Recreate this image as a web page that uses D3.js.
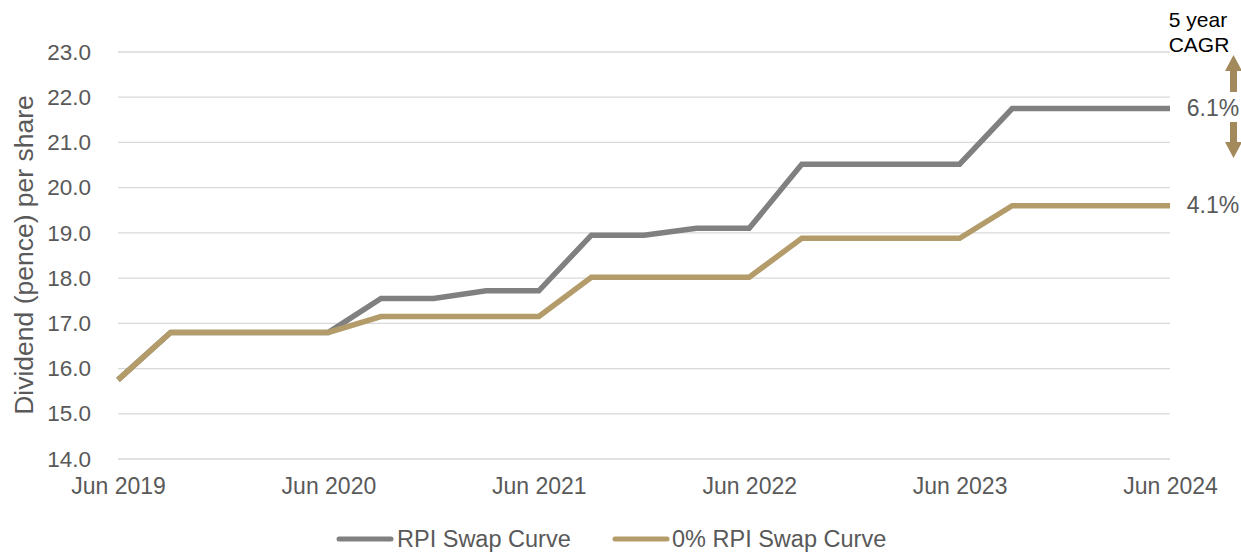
<!DOCTYPE html>
<html>
<head>
<meta charset="utf-8">
<script src="https://cdn.jsdelivr.net/npm/d3@7"></script>
<style>
  html, body { margin: 0; padding: 0; background: #fff; }
  svg { display: block; font-family: "Liberation Sans", Arial, sans-serif; }
</style>
</head>
<body>
<svg id="chart" width="1241" height="552"></svg>
<script>
// Quarterly periods
const quarters = [
  "Jun 2019", "Sep 2019", "Dec 2019", "Mar 2020",
  "Jun 2020", "Sep 2020", "Dec 2020", "Mar 2021",
  "Jun 2021", "Sep 2021", "Dec 2021", "Mar 2022",
  "Jun 2022", "Sep 2022", "Dec 2022", "Mar 2023",
  "Jun 2023", "Sep 2023", "Dec 2023", "Mar 2024",
  "Jun 2024"
];

// Dividend (pence) per share
const rpiSwap = [
  15.75, 16.8, 16.8, 16.8,
  16.8, 17.55, 17.55, 17.72,
  17.72, 18.95, 18.95, 19.1,
  19.1, 20.52, 20.52, 20.52,
  20.52, 21.75, 21.75, 21.75,
  21.75
];
const zeroRpiSwap = [
  15.75, 16.8, 16.8, 16.8,
  16.8, 17.15, 17.15, 17.15,
  17.15, 18.02, 18.02, 18.02,
  18.02, 18.88, 18.88, 18.88,
  18.88, 19.6, 19.6, 19.6,
  19.6
];

const xTickLabels = ["Jun 2019", "Jun 2020", "Jun 2021", "Jun 2022", "Jun 2023", "Jun 2024"];
const yTicks = [14, 15, 16, 17, 18, 19, 20, 21, 22, 23];
const seriesNames = ["RPI Swap Curve", "0% RPI Swap Curve"];
const cagrLabels = ["6.1%", "4.1%"];

const colors = { rpi: "#808080", zero: "#b39c6a", grid: "#d9d9d9", text: "#595959" };

const svg = d3.select("#chart");
const plot = { left: 118, right: 1170, top: 52, bottom: 459 };

const x = d3.scalePoint().domain(quarters).range([plot.left, plot.right]);
const y = d3.scaleLinear().domain([14, 23]).range([plot.bottom, plot.top]);

// Gridlines
svg.append("g")
  .selectAll("line")
  .data(yTicks)
  .join("line")
  .attr("x1", plot.left).attr("x2", plot.right)
  .attr("y1", d => y(d)).attr("y2", d => y(d))
  .attr("stroke", colors.grid)
  .attr("stroke-width", 1.3);

// Y axis labels
const yAxis = svg.append("g")
  .attr("transform", `translate(${plot.left},0)`)
  .call(d3.axisLeft(y).tickValues(yTicks).tickFormat(d3.format(".1f")).tickSize(0).tickPadding(27));
yAxis.select(".domain").remove();
yAxis.selectAll("text")
  .attr("fill", colors.text)
  .style("font-size", "22.5px")
  .style("font-family", "Liberation Sans, Arial, sans-serif");

// X axis labels
const xAxis = svg.append("g")
  .attr("transform", `translate(0,${plot.bottom})`)
  .call(d3.axisBottom(x).tickValues(xTickLabels).tickSize(0).tickPadding(19));
xAxis.select(".domain").remove();
xAxis.selectAll("text")
  .attr("fill", colors.text)
  .style("font-size", "23px")
  .style("font-family", "Liberation Sans, Arial, sans-serif");

// Y axis title
svg.append("text")
  .attr("transform", `translate(33,255) rotate(-90)`)
  .attr("text-anchor", "middle")
  .attr("fill", colors.text)
  .style("font-size", "26.5px")
  .text("Dividend (pence) per share");

// Lines
const line = d3.line()
  .x((d, i) => x(quarters[i]))
  .y(d => y(d));

svg.append("path")
  .datum(rpiSwap)
  .attr("d", line)
  .attr("fill", "none")
  .attr("stroke", colors.rpi)
  .attr("stroke-width", 5.5);

svg.append("path")
  .datum(zeroRpiSwap)
  .attr("d", line)
  .attr("fill", "none")
  .attr("stroke", colors.zero)
  .attr("stroke-width", 5.5);

// CAGR annotations at the end of each curve
const lastRpi = rpiSwap[rpiSwap.length - 1];
const lastZero = zeroRpiSwap[zeroRpiSwap.length - 1];
[[lastRpi, cagrLabels[0]], [lastZero, cagrLabels[1]]].forEach(([v, label]) => {
  svg.append("text")
    .attr("x", 1213).attr("y", y(v) + 7.5)
    .attr("text-anchor", "middle")
    .attr("fill", colors.text)
    .style("font-size", "23px")
    .text(label);
});

svg.append("text")
  .attr("x", 1198).attr("y", 27)
  .attr("text-anchor", "middle")
  .attr("fill", "#000")
  .style("font-size", "21px")
  .text("5 year");
svg.append("text")
  .attr("x", 1199).attr("y", 52)
  .attr("text-anchor", "middle")
  .attr("fill", "#000")
  .style("font-size", "21px")
  .text("CAGR");

// Arrows
function arrow(xc, yTail, yHead) {
  const dir = yHead < yTail ? -1 : 1;
  const headLen = 16, headW = 8.5, shaftW = 3.5;
  const yBase = yHead - dir * headLen;
  const pts = [
    [xc - shaftW, yTail], [xc - shaftW, yBase], [xc - headW, yBase],
    [xc, yHead], [xc + headW, yBase], [xc + shaftW, yBase], [xc + shaftW, yTail]
  ];
  svg.append("path")
    .attr("d", d3.line()(pts) + "Z")
    .attr("fill", "#a38a5c");
}
arrow(1233.5, 92, 55);
arrow(1233.5, 122, 158);

// Legend
const legend = svg.append("g");
const legendItems = [
  { name: seriesNames[0], color: colors.rpi, x: 339, tx: 397 },
  { name: seriesNames[1], color: colors.zero, x: 615, tx: 672 }
];
legendItems.forEach(it => {
  legend.append("line")
    .attr("x1", it.x).attr("x2", it.x + 52)
    .attr("y1", 539).attr("y2", 539)
    .attr("stroke", it.color)
    .attr("stroke-width", 5)
    .attr("stroke-linecap", "round");
  legend.append("text")
    .attr("x", it.tx).attr("y", 547)
    .attr("fill", colors.text)
    .style("font-size", "23.5px")
    .text(it.name);
});
</script>
</body>
</html>
